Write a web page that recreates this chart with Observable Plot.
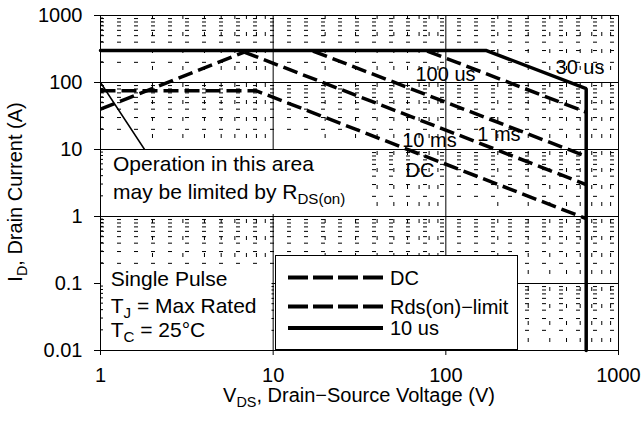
<!DOCTYPE html>
<html><head><meta charset="utf-8">
<script src="https://cdn.jsdelivr.net/npm/d3@7"></script>
<script src="https://cdn.jsdelivr.net/npm/@observablehq/plot@0.6"></script>
<style>
body{margin:0;background:#fff;}
#chart svg{display:block;}
</style>
</head><body><div id="chart"></div>
<script>
// ---- tick values / labels ----
const xTicks = [1, 10, 100, 1000];
const xTickLabels = ["1", "10", "100", "1000"];
const yTicks = [0.01, 0.1, 1, 10, 100, 1000];
const yTickLabels = ["0.01", "0.1", "1", "10", "100", "1000"];

// ---- curves (V in volts, I in amps) ----
const us10V = [1, 172, 650, 650];
const us10I = [300, 300, 81, 0.01];
const us100V = [78, 650];
const us100I = [295, 36];
const ms1V = [17, 650];
const ms1I = [295, 7.9];
const ms10V = [6.8, 650];
const ms10I = [285, 3.0];
const dcV = [1, 8, 650];
const dcI = [75, 75, 0.93];
const rdsV = [1, 6.8];
const rdsI = [40, 285];
const thinV = [1, 1.8];
const thinI = [100, 10];

// ---- curve labels ----
const curveLabels = ["100 us", "30 us", "1 ms", "10 ms", "DC"];
const curveLabelV = [66.7, 432, 152, 55.9, 58.4];
const curveLabelI = [107, 136, 13.4, 10.8, 3.87];

// ---- legend ----
const legendLabels = ["DC", "Rds(on)\u2212limit", "10 us"];
const legendDash = ["20,5", "20,5", null];

const rows = (V, I) => V.map((v, i) => ({V: v, I: I[i]}));

const minorX = [];
for (const d of [1, 10, 100]) for (let k = 2; k <= 9; k++) minorX.push(d * k);
const minorY = [];
for (const d of [0.01, 0.1, 1, 10, 100]) for (let k = 2; k <= 9; k++) minorY.push(+(d * k).toPrecision(3));

const FONT = "'Liberation Sans', Arial, Helvetica, sans-serif";
const dash = "15,6";
const lineOpts = {x: "V", y: "I", stroke: "#000", strokeWidth: 3.5, strokeDasharray: dash, strokeLinecap: "butt"};

const plot = Plot.plot({
  width: 643, height: 421,
  marginLeft: 100, marginRight: 25, marginTop: 15, marginBottom: 71,
  style: {fontFamily: FONT, fontSize: "20px", color: "#000", background: "#fff", overflow: "visible"},
  x: {type: "log", domain: [1, 1000]},
  y: {type: "log", domain: [0.01, 1000]},
  marks: [
    Plot.ruleX(minorX, {stroke: "#000", strokeWidth: 1, strokeDasharray: "4,13"}),
    Plot.ruleY(minorY, {stroke: "#000", strokeWidth: 1, strokeDasharray: "4,13"}),
    Plot.ruleX(xTicks, {stroke: "#000", strokeWidth: 1}),
    Plot.ruleY(yTicks, {stroke: "#000", strokeWidth: 1}),
    Plot.axisX({ticks: xTicks, tickFormat: d => xTickLabels[xTicks.indexOf(d)], tickSize: 5, tickPadding: 12, label: null, fontSize: 20}),
    Plot.axisY({ticks: yTicks, tickFormat: d => yTickLabels[yTicks.indexOf(d)], tickSize: 6, tickPadding: 12, label: null, fontSize: 20}),
    Plot.line(rows(thinV, thinI), {x: "V", y: "I", stroke: "#000", strokeWidth: 1.5}),
    Plot.line(rows(rdsV, rdsI), lineOpts),
    Plot.line(rows(dcV, dcI), lineOpts),
    Plot.line(rows(ms10V, ms10I), lineOpts),
    Plot.line(rows(ms1V, ms1I), lineOpts),
    Plot.line(rows(us100V, us100I), lineOpts),
    Plot.line(rows(us10V, us10I), {x: "V", y: "I", stroke: "#000", strokeWidth: 3.5, strokeLinejoin: "miter"}),
    Plot.text(curveLabels.map((t, i) => ({t, V: curveLabelV[i], I: curveLabelI[i]})),
      {x: "V", y: "I", text: "t", textAnchor: "start", lineAnchor: "bottom", fontSize: 20, fill: "#000"})
  ]
});
document.getElementById("chart").appendChild(plot);

const svg = d3.select(plot);
const sx = plot.scale("x"), sy = plot.scale("y");

// white annotation boxes (layout, pixel space)
svg.append("rect").attr("x", 101).attr("y", 150).attr("width", 264).attr("height", 64).attr("fill", "#fff");
svg.append("rect").attr("x", 101).attr("y", 264).attr("width", 170.5).attr("height", 80.5).attr("fill", "#fff");
// small inward minor ticks on the y axis
svg.append("g").selectAll("line").data(minorY).join("line")
  .attr("x1", sx.apply(1)).attr("x2", sx.apply(1) + 3)
  .attr("y1", d => sy.apply(d)).attr("y2", d => sy.apply(d))
  .attr("stroke", "#000").attr("stroke-width", 1);

function rich(x, y, parts, size, anchor, rotate) {
  const t = svg.append("text").attr("x", x).attr("y", y)
    .attr("font-size", size).attr("text-anchor", anchor || "start").attr("fill", "#000")
    .attr("font-family", FONT);
  if (rotate) t.attr("transform", `rotate(${rotate},${x},${y})`);
  const shift = size * 0.24;
  let inSub = false;
  for (const p of parts) {
    const sp = t.append("tspan").text(p[0]);
    if (p[1] === "sub") {
      sp.attr("font-size", size * 0.72).attr("dy", shift);
      inSub = true;
    } else if (inSub) {
      sp.attr("dy", -shift);
      inSub = false;
    }
  }
  return t;
}

// in-plot annotations (anchored in data coordinates)
rich(sx.apply(1.19), sy.apply(4.74), [["Operation in this area"]], 21);
rich(sx.apply(1.19), sy.apply(1.79), [["may be limited by R"], ["DS(on)", "sub"]], 21);
rich(sx.apply(1.153), sy.apply(0.090), [["Single Pulse"]], 21);
rich(sx.apply(1.153), sy.apply(0.0353), [["T"], ["J", "sub"], [" = Max Rated"]], 21);
rich(sx.apply(1.153), sy.apply(0.0155), [["T"], ["C", "sub"], [" = 25\u00B0C"]], 21);

// axis titles
rich(359, 402, [["V"], ["DS", "sub"], [", Drain\u2212Source Voltage (V)"]], 20, "middle");
rich(22, 192, [["I"], ["D", "sub"], [", Drain Current (A)"]], 20, "middle", -90);

// legend box
const lg = svg.append("g");
lg.append("rect").attr("x", 275.5).attr("y", 255.5).attr("width", 242).attr("height", 94)
  .attr("fill", "#fff").attr("stroke", "#000").attr("stroke-width", 1);
const legY = [277.5, 306.5, 328];
legendLabels.forEach((lab, i) => {
  const ln = lg.append("line").attr("x1", 288).attr("x2", 383).attr("y1", legY[i]).attr("y2", legY[i])
    .attr("stroke", "#000").attr("stroke-width", 4);
  if (legendDash[i]) ln.attr("stroke-dasharray", legendDash[i]);
  lg.append("text").attr("x", 390).attr("y", legY[i] + 7).attr("font-size", 20).attr("fill", "#000")
    .attr("text-anchor", "start").attr("font-family", FONT).text(lab);
});
</script>
</body></html>
